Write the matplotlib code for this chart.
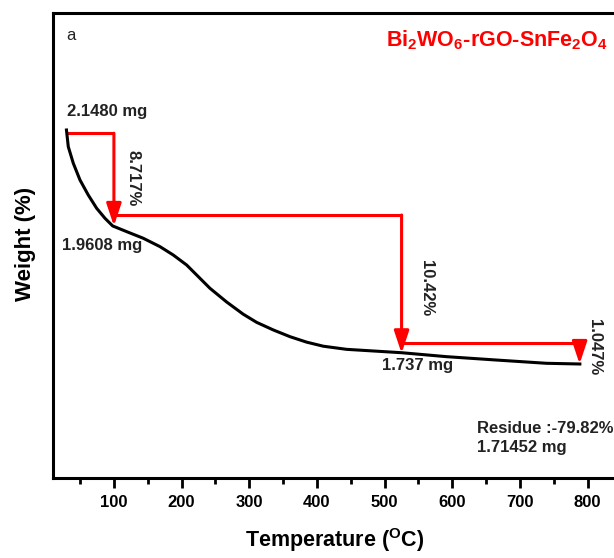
import matplotlib
matplotlib.use("Agg")
import matplotlib.pyplot as plt

# TGA curve (temperature in C, weight in %)
temp_c = [29.9, 32.6, 40.0, 49.9, 62.1, 74.5, 86.8, 98.2, 118.9, 143.4, 168.1,
          187.7, 207.5, 222.3, 241.9, 266.6, 291.1, 310.9, 335.4, 360.1,
          384.7, 409.3, 443.8, 483.1, 525.1, 591.5, 665.4, 739.2, 788.4]
weight_pct = [99.94, 98.50, 97.08, 95.64, 94.35, 93.21, 92.35, 91.69, 91.20,
              90.63, 89.91, 89.19, 88.33, 87.47, 86.33, 85.15, 84.10, 83.40,
              82.75, 82.17, 81.70, 81.35, 81.08, 80.94, 80.79, 80.45, 80.16,
              79.88, 79.82]

# weight-loss steps: start T, step T, level before the drop, arrow tip
step_start = [29.9, 100.0, 525.0]
step_at = [100.0, 525.0, 788.0]
step_level = [99.66, 92.63, 81.60]
step_tip = [91.69, 80.74, 79.82]
step_pct = ["8.717%", "10.42%", "1.047%"]

mass_labels = ["2.1480 mg", "1.9608 mg", "1.737 mg"]
xticks = [100, 200, 300, 400, 500, 600, 700, 800]

plt.rcParams['font.family'] = ['Liberation Sans', 'DejaVu Sans']
plt.rcParams['mathtext.fontset'] = 'custom'
plt.rcParams['mathtext.rm'] = 'Liberation Sans:bold'
plt.rcParams['mathtext.it'] = 'Liberation Sans:bold'
plt.rcParams['mathtext.bf'] = 'Liberation Sans:bold'

fig = plt.figure(figsize=(6.14, 5.58), dpi=100)
ax = fig.add_axes([0.0863, 0.143, 0.926, 0.8337])

red = '#ff0000'
ax.plot(temp_c, weight_pct, color='black', lw=2.2, zorder=3,
        solid_joinstyle='round')

for i in range(3):
    ax.plot([step_start[i], step_at[i]], [step_level[i], step_level[i]],
            color=red, lw=2.2, solid_capstyle='butt', zorder=2)
    ax.annotate('', xy=(step_at[i], step_tip[i]), xytext=(step_at[i], step_level[i]),
                arrowprops=dict(arrowstyle='-|>,head_length=0.9,head_width=0.3',
                                color=red, lw=2.2, shrinkA=0, shrinkB=0,
                                mutation_scale=15), zorder=2)

txt = dict(fontsize=12, fontweight='bold', color='#222222')
ax.text(89.3, 101.5, mass_labels[0], ha='center', va='center', **txt)
ax.text(81.9, 89.97, mass_labels[1], ha='center', va='center', **txt)
ax.text(548, 79.73, mass_labels[2], ha='center', va='center', **txt)
ax.text(128.6, 95.8, step_pct[0], rotation=-90, ha='center', va='center', **txt)
ax.text(562.4, 86.36, step_pct[1], rotation=-90, ha='center', va='center', **txt)
ax.text(810.6, 81.31, step_pct[2], rotation=-90, ha='center', va='center', **txt)
ax.text(636, 74.29, 'Residue :-79.82%', ha='left', va='center', **txt)
ax.text(636, 72.60, '1.71452 mg', ha='left', va='center', **txt)

ax.text(29, 108.1, 'a', fontsize=12, ha='left', va='center', color='#222222')
ax.text(502, 107.68, r'Bi$_2$WO$_6$-rGO-SnFe$_2$O$_4$', fontsize=15.5,
        fontweight='bold', color=red, ha='left', va='center')

ax.set_xlim(10, 850)
ax.set_ylim(70, 110)
ax.set_xticks(xticks)
ax.set_xticks([50 + 100 * k for k in range(8)], minor=True)
ax.set_yticks([])
ax.tick_params(axis='x', which='major', direction='out', length=7, width=2,
               labelsize=12, pad=5)
ax.tick_params(axis='x', which='minor', direction='out', length=4, width=2)
for lab in ax.get_xticklabels():
    lab.set_fontweight('bold')
for sp in ax.spines.values():
    sp.set_linewidth(2.2)

ax.set_xlabel(r'Temperature ($^{O}$C)', fontsize=15.5, fontweight='bold', va='center')
ax.xaxis.set_label_coords(0.496, -0.133)
ax.set_ylabel('Weight (%)', fontsize=16, fontweight='bold', va='center')
ax.yaxis.set_label_coords(-0.049, 0.503)

fig.savefig('out.png', dpi=100)
